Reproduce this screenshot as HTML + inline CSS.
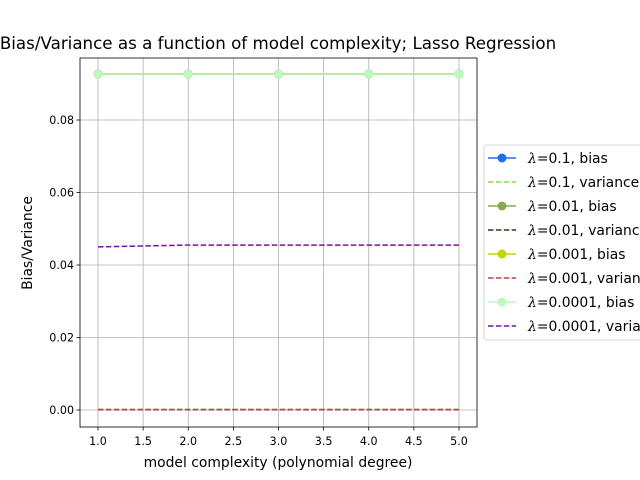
<!DOCTYPE html>
<html><head><meta charset="utf-8"><style>
body{margin:0;background:#fff;overflow:hidden}
svg{display:block;font-family:"DejaVu Sans","Liberation Sans",sans-serif}
</style></head><body>
<svg id="c" width="640" height="480"></svg>
<script>
const xs=[1,2,3,4,5];
const xTicks=[1.0,1.5,2.0,2.5,3.0,3.5,4.0,4.5,5.0];
const yTicks=[0.00,0.02,0.04,0.06,0.08];
const lams=["0.1","0.1","0.01","0.01","0.001","0.001","0.0001","0.0001"];
const kinds=["bias","variance","bias","variance","bias","variance","bias","variance"];
const colors=["#1f6fe8","#7be050","#88aa50","#4a2a10","#bcd600","#c04040","#bff7c0","#7a10a0"];
const bias01=[0.0927,0.0927,0.0927,0.0927,0.0927];
const var01=[0.0001,0.0001,0.0001,0.0001,0.0001];
const bias001=[0.0927,0.0927,0.0927,0.0927,0.0927];
const var001=[0.0001,0.0001,0.0001,0.0001,0.0001];
const bias0001=[0.0927,0.0927,0.0927,0.0927,0.0927];
const var0001=[0.0001,0.0001,0.0001,0.0001,0.0001];
const bias00001=[0.0927,0.0927,0.0927,0.0927,0.0927];
const var00001=[0.0450,0.0455,0.0455,0.0455,0.0455];
const series=[bias01,var01,bias001,var001,bias0001,var0001,bias00001,var00001];
const NS="http://www.w3.org/2000/svg";
const svg=document.getElementById('c');
const L=80,R=477,T=58,B=427;
const X=v=>98+(v-1)*(459-98)/4;
const Y=v=>410-v*(410-120)/0.08;
function mk(t,a,p){const e=document.createElementNS(NS,t);for(const k in a)e.setAttribute(k,a[k]);(p||svg).appendChild(e);return e;}
xTicks.forEach(v=>{
 const g=mk('line',{x1:X(v),x2:X(v),y1:T,y2:B,stroke:'#b0b0b0','stroke-width':0.8});
 
 
 mk('line',{x1:X(v),x2:X(v),y1:B,y2:B+3.5,stroke:'#000','stroke-width':0.8});
 const t=mk('text',{x:X(v),y:B+18,'font-size':11.1,'text-anchor':'middle'});t.textContent=v.toFixed(1);
 
 
});
yTicks.forEach(v=>{
 const g=mk('line',{x1:L,x2:R,y1:Y(v),y2:Y(v),stroke:'#b0b0b0','stroke-width':0.8});
 
 
 mk('line',{x1:L-3.5,x2:L,y1:Y(v),y2:Y(v),stroke:'#000','stroke-width':0.8});
 const t=mk('text',{x:L-6,y:Y(v)+4,'font-size':11.1,'text-anchor':'end'});t.textContent=v.toFixed(2);
 
 
});
series.forEach((s,i)=>{
 const dashed=i%2===1;
 const p=mk('polyline',{points:s.map((v,j)=>X(xs[j])+','+Y(v)).join(' '),fill:'none',stroke:colors[i],'stroke-width':1.5,'stroke-dasharray':dashed?'5.5,2.4':'none'});
 
 
 if(!dashed)s.forEach((v,j)=>{
  const c=mk('circle',{cx:X(xs[j]),cy:Y(v),r:4.5,fill:colors[i]});
  
  
 });
});
const fr=mk('rect',{x:L,y:T,width:R-L,height:B-T,fill:'none',stroke:'#000','stroke-width':0.8});


const ti=mk('text',{x:278,y:49,'font-size':16.7,'text-anchor':'middle'});ti.textContent='Bias/Variance as a function of model complexity; Lasso Regression';


const xl=mk('text',{x:278,y:467,'font-size':13.9,'text-anchor':'middle'});xl.textContent='model complexity (polynomial degree)';


const yl=mk('text',{x:32,y:243,'font-size':13.9,'text-anchor':'middle',transform:'rotate(-90 32 243)'});yl.textContent='Bias/Variance';


const lg=mk('rect',{x:484,y:145,width:190,height:195,rx:3,fill:'#fff',stroke:'#ccc','stroke-width':0.8});


lams.forEach((lam,i)=>{
 const y=158+i*24;
 mk('line',{x1:488,x2:516,y1:y,y2:y,stroke:colors[i],'stroke-width':1.5,'stroke-dasharray':i%2?'5.5,2.4':'none'});
 if(i%2===0)mk('circle',{cx:502,cy:y,r:4.5,fill:colors[i]});
 const t=mk('text',{x:528,y:y+5,'font-size':13.9});
 const s1=mk('tspan',{'font-style':'italic','font-family':'"DejaVu Serif",serif'},t);s1.textContent='λ';
 const s2=mk('tspan',{},t);s2.textContent='=' + lam + ', ' + kinds[i];
 
 
});
</script>
</body></html>
